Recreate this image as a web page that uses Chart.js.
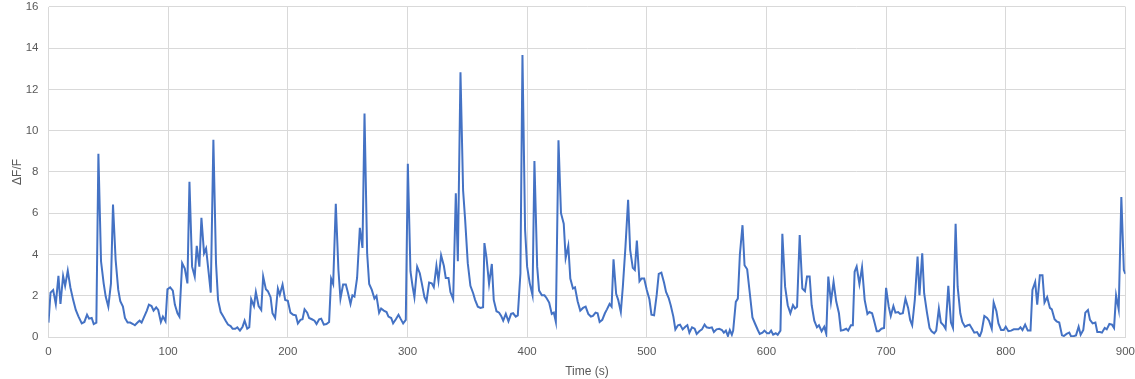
<!DOCTYPE html>
<html>
<head>
<meta charset="utf-8">
<script src="https://cdn.jsdelivr.net/npm/chart.js@4/dist/chart.umd.min.js"></script>
<style>
  html, body { margin: 0; padding: 0; background: #fff; }
  /* canvas is a bit larger than the view so the plot area can reach the edges like the original */
  #wrap { width: 1135px; height: 379px; overflow: hidden; position: relative; }
  #chart { position: absolute; left: 0; top: -10px; }
</style>
</head>
<body>
<div id="wrap"><canvas id="chart" width="1143" height="389"></canvas></div>
<script>
// tick values
const xTicks = [0, 100, 200, 300, 400, 500, 600, 700, 800, 900]
const yTicks = [0, 2, 4, 6, 8, 10, 12, 14, 16]

// time (s)
const timeS = [
  0, 1.7, 3.9, 6.1, 8.3, 10, 12.2, 13.9, 16.1, 18.3, 20.6, 22.8, 25, 27.8, 30, 32.2, 33.9, 36.1, 37.8, 40,
  41.7, 43.9, 46.1, 47.8, 50, 52.2, 53.9, 56.1, 58.3, 60, 62.2, 63.9, 66.1, 68.3, 70.6, 72.2, 74.4, 76.1, 77.8, 80,
  82.2, 83.9, 86.1, 87.8, 90, 91.7, 93.9, 95.6, 97.8, 99.4, 101.7, 103.9, 105.6, 107.8, 109.4, 111.7, 113.9, 116.1, 117.8, 120,
  122.2, 123.9, 126.1, 127.8, 130, 131.7, 133.9, 135.6, 137.8, 140, 141.7, 143.9, 146.1, 148.3, 150, 152.2, 153.9, 156.1, 157.8, 160,
  162.2, 163.9, 166.1, 167.8, 169.4, 171.7, 173.3, 175.6, 177.8, 179.4, 181.7, 183.3, 185.6, 187.2, 189.4, 191.7, 193.3, 195.6, 197.8,
  200, 202.2, 204.5, 206.7, 208.4, 210.6, 212.3, 214, 216.2, 217.8, 220.1, 222.3, 224, 226.2, 227.9, 230.1, 232.3, 234.5, 236.2, 237.9,
  240.1, 242.3, 244, 246.2, 248.5, 250.1, 252.4, 254, 255.7, 257.9, 260.2, 262.4, 264.1, 266.3, 268, 270.2, 272.4, 274.1, 276.3, 278,
  280.2, 282.5, 284.1, 286.4, 288, 290.3, 292.5, 294.2, 296.4, 298.6, 300.3, 302.5, 304.2, 305.8, 308.1, 310.3, 312, 314.2, 315.9, 318.1,
  320.3, 322, 324.2, 325.9, 328.1, 330.4, 332, 334.3, 335.9, 338.2, 340.4, 342.1, 344.3, 346.5, 348.2, 350.4, 352.6, 354.9, 356.5, 358.8,
  361, 363.2, 364.3, 366, 368.2, 370.5, 372.1, 374.4, 376.6, 378.3, 380, 382.2, 384.4, 386.6, 388.3, 390.5, 392.2, 394.4, 396.1, 398.3,
  400, 402.2, 404.5, 406.1, 408.4, 410, 412.3, 414.5, 416.2, 418.4, 420.6, 422.3, 424, 426.2,
  428.3, 430.6, 432.2, 434.4, 436.1, 438.3, 440, 442.2, 444.4, 446.7, 448.9, 451.1, 453.3, 455, 457.2, 458.9, 460.6, 462.8, 465, 466.7,
  468.9, 470.6, 472.2, 474.4, 476.1, 478.3, 480, 482.2, 484.4, 486.1, 488.3, 490, 491.7, 493.9, 495.6, 497.8, 500, 502.2, 503.9, 506.1,
  508.3, 510, 512.2, 514.4, 516.1, 518.3, 520, 522.2, 523.9, 526.1, 527.8, 530, 532.2, 533.9, 535.6, 537.8, 540, 541.7, 543.9, 546.1,
  548.3, 550, 552.2, 554.4, 556.1, 558.3, 560.6, 562.8, 564.4, 566.1, 567.8, 569.4, 571.1, 572.2, 574.4, 576.1, 577.8, 580, 581.7, 583.9,
  586.1, 588.3, 590.6, 592.8, 594.4, 596.7, 598.3, 600.6, 602.2, 603.9, 605.6, 607.8, 609.4, 611.7, 613.3, 615.6, 617.8, 620, 622.2, 623.9,
  625.6, 627.8, 630, 632.2, 633.9, 636.1, 637.8, 640, 642.2, 643.9, 646.1, 648.3, 650, 651.7, 653.9, 656.1, 658.3, 660.6, 662.2, 664.4,
  666.7, 668.3, 670.6, 672.2,
  673.7, 675.4, 677.7, 679.9, 682.1, 684.4, 686, 688.3, 690, 692.2, 693.9, 696.1, 698.3, 700, 702.2, 703.9, 706.1, 707.8, 710.1, 711.7,
  714, 716.2, 718.4, 720.1, 721.8, 724, 726.3, 727.9, 730.2, 731.8, 734.1, 736.3, 738, 740.2, 741.9, 744.1, 745.8, 748, 749.7, 752,
  754.2, 755.9, 758.1, 759.8, 762, 763.7, 765.9, 768.2, 769.8, 772.1, 773.7, 776, 778.2, 779.9, 782.1, 784.4, 786, 788.3, 789.9, 792.2,
  793.9, 796.1, 798.3, 800, 802.2, 804.5, 806.7, 808.4, 810.6, 812.3, 814, 816.2, 818.4, 820.7, 822.3, 824.6, 826.3, 828.5, 830.7, 832.4,
  834.6, 836.9, 838.5, 840.8, 842.5, 844.7, 847, 848.6, 850.8, 853.1, 854.7, 857, 858.7, 860.9, 862.6, 864.8, 866.5, 868.7, 870.4, 872.6,
  874.9, 876.5, 878.8, 880.4, 882.7, 884.4, 886.6, 888.8, 890.5, 892.2, 894.4, 896.6, 898.7, 900
]

// ΔF/F at each time
const dff = [
  0.7, 2.15, 2.28, 1.6, 2.96, 1.6, 2.96, 2.48, 3.22, 2.4, 1.8, 1.31, 1.0, 0.66, 0.73, 1.08, 0.89, 0.92, 0.63, 0.7,
  8.88, 3.67, 2.6, 1.96, 1.47, 2.6, 6.42, 3.74, 2.28, 1.73, 1.47, 0.92, 0.7, 0.7, 0.63, 0.57, 0.7, 0.79, 0.7, 0.99,
  1.28, 1.57, 1.5, 1.28, 1.44, 1.31, 0.73, 0.99, 0.76, 2.31, 2.41, 2.25, 1.57, 1.15, 0.99, 3.58, 3.32, 2.6, 7.52, 3.41,
  2.93, 4.42, 3.41, 5.78, 4.06, 4.29, 3.09, 2.15, 9.56, 3.58, 1.8, 1.21, 0.99, 0.76, 0.6, 0.53, 0.4, 0.4, 0.47, 0.31,
  0.5, 0.79, 0.4, 0.47, 1.83, 1.5, 2.18, 1.5, 1.31, 2.93, 2.31, 2.22, 1.93, 1.15, 0.92, 2.35, 2.05, 2.54, 1.8,
  1.76, 1.18, 1.08, 1.05, 0.66, 0.83, 0.86, 1.34, 1.18, 0.92, 0.86, 0.79, 0.63, 0.86, 0.89, 0.6, 0.63, 0.73, 2.83, 2.57,
  6.46, 3.25, 1.86, 2.54, 2.54, 2.18, 1.6, 2.02, 1.96, 2.86, 5.29, 4.32, 10.83, 4.06, 2.57, 2.28, 1.86, 1.99, 1.18, 1.38,
  1.28, 1.21, 0.99, 0.92, 0.66, 0.86, 1.08, 0.89, 0.66, 0.83, 8.4, 3.19, 2.48, 1.93, 3.41, 3.09, 2.6, 1.93, 1.73, 2.64,
  2.6, 2.41, 3.45, 2.73, 3.96, 3.45, 2.86, 2.86, 2.18, 1.83, 6.97, 3.67, 12.83, 7.1, 5.68, 3.58, 2.48, 2.12, 1.8, 1.47,
  1.41, 1.44, 4.55, 3.87, 2.57, 3.54, 1.8, 1.25, 1.18, 1.02, 0.79, 1.12, 0.76, 1.12, 1.15, 0.99, 1.05, 3.09, 13.67, 5.19,
  3.41, 2.6, 2.02, 8.53, 3.41, 2.25, 2.02, 2.02, 1.89, 1.67, 1.12, 1.18, 0.73, 9.53,
  6.0, 5.49, 3.83, 4.42, 2.83, 2.35, 2.41, 1.73, 1.28, 1.41, 1.47, 1.12, 0.99, 1.02, 1.18, 1.15, 0.73, 0.83, 1.15, 1.34,
  1.6, 1.47, 3.77, 2.09, 1.8, 1.21, 2.44, 4.39, 6.65, 4.22, 3.35, 3.25, 4.68, 2.7, 2.83, 2.83, 2.28, 1.83, 1.08, 1.05,
  2.05, 3.06, 3.12, 2.64, 2.18, 1.89, 1.54, 0.99, 0.37, 0.57, 0.6, 0.37, 0.5, 0.57, 0.21, 0.47, 0.4, 0.15, 0.28, 0.37,
  0.6, 0.47, 0.44, 0.47, 0.24, 0.37, 0.4, 0.34, 0.21, 0.31, 0.05, 0.34, 0.11, 0.31, 1.7, 1.86, 4.0, 5.42, 3.48, 3.28,
  2.12, 0.95, 0.63, 0.34, 0.15, 0.21, 0.31, 0.18, 0.18, 0.31, 0.11, 0.18, 0.11, 0.31, 5.0, 2.44, 1.54, 1.15, 1.54, 1.38,
  1.47, 4.94, 2.35, 2.22, 2.93, 2.93, 1.54, 0.79, 0.47, 0.57, 0.28, 0.5, 0.15, 2.93, 1.7, 2.67, 1.73, 1.15, 0.31, 0.34,
  0.4, 0.31, 0.57, 0.57,
  3.16, 3.41, 2.57, 3.38, 1.8, 1.12, 1.21, 1.15, 0.79, 0.28, 0.28, 0.4, 0.44, 2.38, 1.47, 1.02, 1.5, 1.18, 1.21, 1.12,
  1.15, 1.86, 1.41, 0.83, 0.57, 1.8, 3.9, 2.02, 4.06, 2.12, 1.21, 0.44, 0.28, 0.18, 0.31, 1.38, 0.7, 0.57, 0.4, 2.48,
  0.7, 0.44, 5.49, 2.44, 1.15, 0.73, 0.5, 0.57, 0.6, 0.37, 0.21, 0.24, 0.02, 0.28, 1.02, 0.92, 0.79, 0.4, 1.67, 1.25,
  0.66, 0.34, 0.34, 0.5, 0.28, 0.31, 0.37, 0.37, 0.37, 0.47, 0.34, 0.6, 0.31, 0.31, 2.28, 2.67, 1.57, 2.99, 2.99, 1.67,
  1.93, 1.41, 1.34, 0.86, 0.76, 0.7, 0.08, 0.05, 0.15, 0.21, 0.02, 0.05, 0.08, 0.5, 0.11, 0.34, 1.18, 1.31, 0.83, 0.66,
  0.7, 0.24, 0.24, 0.21, 0.44, 0.37, 0.63, 0.6, 0.44, 2.02, 1.34, 6.78, 3.25, 3.06
]

const LINE = '#4472C4'
const GRID = '#d9d9d9'
const TEXT = '#595959'
const FONT = "'Liberation Sans', 'DejaVu Sans', sans-serif"

const points = timeS.map((t, i) => ({ x: t, y: dff[i] }))

new Chart(document.getElementById('chart'), {
  type: 'line',
  data: {
    datasets: [{
      label: 'ΔF/F',
      data: points,
      borderColor: LINE,
      backgroundColor: LINE,
      borderWidth: 2,
      pointRadius: 0,
      tension: 0,
    }],
  },
  options: {
    responsive: false,
    animation: false,
    layout: { padding: { top: 7.5, right: 8, left: 0, bottom: 0 } },
    plugins: { legend: { display: false }, tooltip: { enabled: false } },
    scales: {
      x: {
        type: 'linear',
        min: xTicks[0],
        max: xTicks[xTicks.length - 1],
        afterBuildTicks: s => { s.ticks = xTicks.map(v => ({ value: v })) },
        grid: { color: GRID, lineWidth: 1, drawTicks: false },
        border: { color: GRID },
        ticks: { color: TEXT, font: { family: FONT, size: 11.5 }, padding: 8, maxRotation: 0 },
        title: { display: true, text: 'Time (s)', color: TEXT, font: { family: FONT, size: 12 }, padding: { top: 4, bottom: 0 } },
        afterFit: s => { s.height = 42 },
      },
      y: {
        min: yTicks[0],
        max: yTicks[yTicks.length - 1],
        afterBuildTicks: s => { s.ticks = yTicks.map(v => ({ value: v })) },
        grid: { color: GRID, lineWidth: 1, drawTicks: false },
        border: { display: false },
        ticks: { color: TEXT, font: { family: FONT, size: 11.5 }, padding: 10 },
        title: { display: true, text: 'ΔF/F', color: TEXT, font: { family: FONT, size: 12 }, padding: { top: 10, bottom: 4 } },
        afterFit: s => { s.width = 48.5 },
      },
    },
  },
})
</script>
</body>
</html>
